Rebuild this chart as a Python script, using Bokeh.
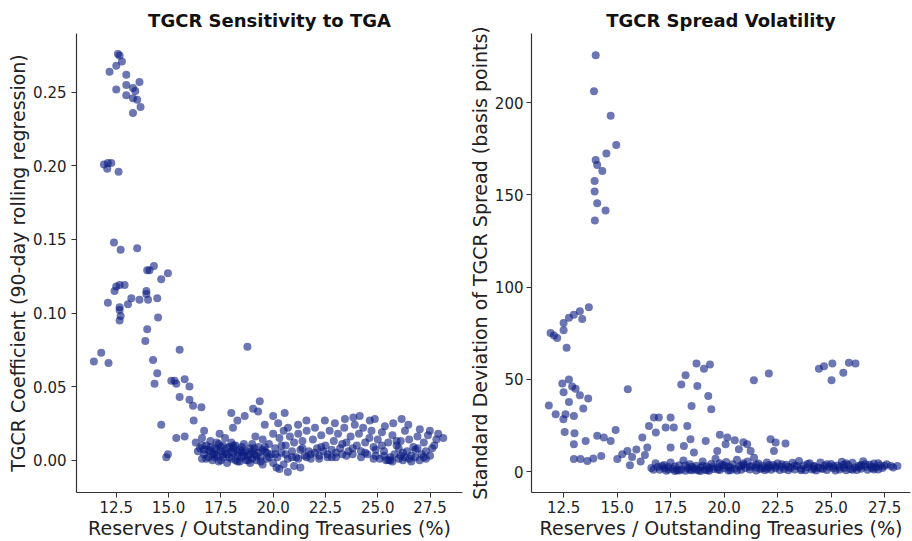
from bokeh.plotting import figure
from bokeh.layouts import row
from bokeh.models import FixedTicker, NumeralTickFormatter, Range1d
from bokeh.embed import file_html
from bokeh.resources import INLINE

# ---------------- Left panel: TGCR sensitivity to TGA ----------------
tga_scarce_x = [12.58, 12.66, 12.77, 12.50, 12.18, 12.98, 12.50, 12.98, 13.30, 13.61, 13.41, 12.98, 13.30, 13.50, 13.66, 13.30,
                12.10, 12.26, 11.91, 12.07, 12.61,
                12.39, 12.71, 13.50, 14.30, 14.09, 13.98, 14.97, 14.65, 12.50, 12.66, 12.90, 12.42, 13.94, 13.94, 12.10, 13.22,
                13.06, 13.61, 14.02, 14.46, 12.66, 12.66, 12.71, 12.66, 14.50, 13.98, 13.89, 15.53, 11.78, 11.43, 12.13, 14.26,
                14.46, 14.33, 15.13, 15.37, 15.77, 16.00, 15.53, 16.00, 16.17, 16.57, 16.20, 14.65, 18.77, 15.29,
                18.00, 18.29, 18.64, 18.08, 19.04, 19.36, 19.28, 15.37, 15.77, 16.70, 17.44, 14.97, 14.89, 19.15, 20.16]
tga_scarce_y = [0.276, 0.275, 0.271, 0.268, 0.264, 0.262, 0.252, 0.255, 0.253, 0.257, 0.251, 0.248, 0.246, 0.245, 0.240, 0.236,
                0.202, 0.202, 0.201, 0.198, 0.196,
                0.148, 0.143, 0.144, 0.132, 0.129, 0.129, 0.127, 0.123, 0.118, 0.119, 0.119, 0.115, 0.115, 0.113, 0.107, 0.110,
                0.106, 0.109, 0.109, 0.110, 0.104, 0.102, 0.098, 0.095, 0.097, 0.089, 0.081, 0.075, 0.073, 0.067, 0.066, 0.068,
                0.059, 0.052, 0.054, 0.052, 0.055, 0.050, 0.043, 0.041, 0.037, 0.036, 0.027, 0.024, 0.077, 0.054,
                0.032, 0.027, 0.030, 0.022, 0.035, 0.040, 0.033, 0.015, 0.016, 0.020, 0.018, 0.004, 0.002, 0.016, -0.005]

tga_ample_x = [19.60, 20.00, 20.24, 20.55, 20.71, 21.19, 21.59, 22.47, 22.95, 23.43, 23.83, 24.14, 24.62, 24.86, 25.34, 25.74,
               26.14, 26.46, 27.01, 27.49, 27.89, 28.13,
               16.3, 16.5, 16.6, 16.7, 16.8, 16.9, 17.0, 17.0, 17.1, 17.2, 17.3, 17.3, 17.4, 17.5, 17.6, 17.6, 17.7, 17.8, 17.8,
               17.9, 18.0, 18.0, 18.1, 18.2, 18.2, 18.3, 18.4, 18.4, 18.5, 18.6, 18.6, 18.7, 18.8, 18.9, 18.9, 19.0,
               19.1, 19.2, 19.3, 19.4, 19.5, 19.5, 19.6, 19.7, 19.8, 19.9, 20.0, 20.0,
               20.1, 20.2, 20.3, 20.3, 20.4, 20.5, 20.5, 20.6, 20.7, 20.7, 20.8, 20.9, 21.0, 21.0,
               21.1, 21.2, 21.3, 21.3, 21.4, 21.5, 21.6, 21.7, 21.8, 21.9, 22.0, 22.0,
               22.1, 22.2, 22.3, 22.4, 22.5, 22.6, 22.7, 22.8, 22.9, 23.0,
               23.1, 23.2, 23.3, 23.4, 23.5, 23.6, 23.7, 23.8, 23.9, 24.0,
               24.1, 24.2, 24.3, 24.4, 24.5, 24.6, 24.7, 24.8, 24.9, 25.0,
               25.1, 25.2, 25.2, 25.3, 25.4, 25.5, 25.6, 25.7, 25.7, 25.8, 25.9, 26.0,
               26.1, 26.1, 26.2, 26.3, 26.4, 26.5, 26.5, 26.6, 26.7, 26.8, 26.9, 27.0,
               27.1, 27.2, 27.3, 27.4, 27.5, 27.6, 27.8,
               16.6, 16.9, 17.2, 17.5, 17.7, 18.1, 18.3, 18.5, 18.8, 19.0, 19.2, 19.4, 19.7, 21.2, 21.6, 22.2, 22.6, 23.0,
               23.5, 24.2, 24.8, 25.5, 26.0, 26.3, 26.8, 27.2,
               16.4, 16.6, 16.8, 17.0, 17.1, 17.3, 17.4, 17.6, 17.8, 17.9, 18.1, 18.3, 18.5, 18.7, 18.9, 19.1, 19.3, 19.5,
               19.8, 20.1, 20.4, 20.9, 21.4, 21.8, 22.3, 22.8, 23.3, 23.8, 24.4, 24.9, 25.3, 25.6, 25.9, 26.2, 26.6, 26.9,
               27.3, 27.7, 16.7, 17.2, 17.5, 18.0, 18.6, 19.0, 19.6, 20.6]
tga_ample_y = [0.024, 0.030, 0.025, 0.032, 0.022, 0.024, 0.027, 0.027, 0.025, 0.028, 0.029, 0.030, 0.027, 0.028, 0.023, 0.025,
               0.028, 0.024, 0.021, 0.020, 0.018, 0.015,
               0.012, 0.008, 0.015, 0.004, 0.010, 0.002, 0.013, 0.006, 0.000, 0.008, 0.003, 0.012, -0.001, 0.006, 0.010, 0.002,
               0.015, 0.004, -0.002, 0.009, 0.001, 0.012, 0.005, 0.000, 0.010, 0.003, 0.007, -0.001, 0.002, 0.011, 0.005, 0.000,
               0.003, 0.008, -0.002, 0.001,
               0.004, 0.000, 0.009, 0.002, 0.014, -0.003, 0.006, 0.001, 0.011, 0.004, 0.018, -0.002,
               0.008, 0.002, 0.015, -0.006, 0.005, 0.020, -0.003, 0.010, 0.001, -0.008, 0.016, 0.006, -0.004, 0.012,
               0.002, 0.018, 0.007, -0.005, 0.013, 0.003, 0.020, 0.006, 0.001, 0.014, 0.005, 0.022,
               0.008, 0.003, 0.017, 0.006, 0.010, 0.004, 0.020, 0.007, 0.013, 0.005,
               0.018, 0.008, 0.004, 0.022, 0.012, 0.006, 0.016, 0.004, 0.024, 0.010,
               0.018, 0.006, 0.022, 0.012, 0.004, 0.015, 0.020, 0.009, 0.003, 0.014,
               0.001, 0.010, 0.019, 0.003, 0.000, 0.012, 0.002, 0.017, -0.001, 0.004, 0.010, 0.001,
               0.013, 0.003, 0.000, 0.020, 0.006, 0.001, 0.014, -0.001, 0.009, 0.002, 0.016, 0.000,
               0.004, 0.012, 0.001, 0.017, 0.003, 0.008, 0.014,
               0.001, 0.007, 0.002, 0.000, 0.005, 0.008, -0.001, 0.006, 0.000, 0.006, 0.003, -0.001, 0.005, 0.001, 0.002,
               0.001, 0.002, 0.002, 0.003, 0.002, 0.001, 0.000, 0.008, 0.002, 0.007, 0.002,
               0.006, 0.010, 0.001, 0.009, 0.004, 0.007, 0.011, 0.004, 0.008, 0.002, 0.010, 0.005, 0.009, 0.006, 0.004, 0.008,
               0.005, 0.007, 0.002, 0.004, 0.010, 0.002, 0.008, 0.004, 0.009, 0.002, 0.011, 0.008, 0.005, 0.007, 0.006, 0.000,
               0.013, 0.005, 0.003, 0.008, 0.006, 0.010, 0.007, 0.004, 0.009, 0.006, 0.003, 0.011, 0.009, 0.004]

tga_y_ticks = [0.0, 0.05, 0.10, 0.15, 0.20, 0.25]

# ---------------- Right panel: TGCR spread volatility ----------------
vol_scarce_x = [14.00, 13.92, 14.70, 14.96, 14.50, 14.00, 14.07, 14.31, 13.95, 13.95, 14.07, 14.46, 13.96,
                13.68, 13.26, 12.98, 12.75, 13.37, 12.50, 12.50, 11.89, 12.05, 12.20, 12.64,
                12.75, 12.44, 12.90, 13.06, 12.50, 13.26, 13.65, 15.50, 12.75, 11.81, 13.42, 12.13, 12.59, 12.98, 12.49,
                12.55, 13.01, 12.98, 13.53, 14.07, 14.38, 14.70, 14.93, 12.98, 13.29, 13.61, 13.89, 14.26, 15.01, 15.24,
                15.48, 16.49, 16.72, 15.7, 15.9, 16.1, 16.3, 15.6]
vol_scarce_y = [225.7, 206.2, 192.9, 177.0, 172.5, 168.9, 166.2, 163.0, 157.6, 151.8, 145.5, 141.5, 136.1,
                89.1, 86.9, 85.1, 83.4, 82.8, 80.6, 76.6, 75.2, 73.8, 72.5, 67.1,
                50.0, 47.8, 46.1, 45.0, 43.1, 41.4, 39.6, 44.6, 37.7, 35.9, 34.2, 31.1, 31.1, 30.2, 28.4,
                21.5, 20.8, 14.9, 16.6, 19.4, 18.5, 16.6, 22.6, 6.8, 6.8, 5.8, 7.1, 8.5, 6.8, 9.5,
                11.2, 24.8, 29.3, 8.0, 12.0, 5.5, 9.0, 3.5]

vol_ample_x = [18.71, 19.06, 19.34, 18.20, 18.00, 18.75, 19.26, 18.48, 19.40, 21.39, 22.09,
               24.43, 24.67, 25.06, 25.57, 25.02, 25.83, 26.14,
               16.95, 17.50, 17.27, 17.65, 16.81, 18.28, 16.18, 18.43, 19.14, 20.15, 20.07, 21.08, 22.17, 16.41, 17.50,
               18.59, 19.68, 20.69, 21.24, 18.12, 22.41, 22.87, 22.33, 20.5, 20.9, 19.8,
               16.6, 16.8, 17.0, 17.1, 17.3, 17.4, 17.5, 17.6, 17.8, 17.9, 18.0, 18.1, 18.2, 18.3, 18.4, 18.5, 18.6, 18.7,
               18.8, 18.9, 19.0, 19.1, 19.2, 19.3, 19.4, 19.5, 19.6, 19.7, 19.8, 19.9, 20.0, 20.1, 20.2, 20.3, 20.4, 20.5,
               20.6, 20.7, 20.8, 20.9, 21.0, 21.1, 21.2, 21.3, 21.4, 21.5, 21.6, 21.7, 21.8, 21.9, 22.0, 22.1, 22.2, 22.3,
               22.4, 22.5, 22.6, 22.7, 22.8, 22.9, 23.0, 23.1, 23.2, 23.3, 23.4, 23.5, 23.6, 23.7, 23.8, 23.9, 24.0, 24.1,
               24.2, 24.3, 24.4, 24.5, 24.6, 24.7, 24.8, 24.9, 25.0, 25.1, 25.2, 25.3, 25.4, 25.5, 25.6, 25.7, 25.8, 25.9,
               26.0, 26.1, 26.2, 26.3, 26.4, 26.5, 26.6, 26.7, 26.8, 26.9, 27.0, 27.1, 27.2, 27.3, 27.4, 27.6, 27.8, 28.1,
               17.2, 17.7, 18.4, 18.9, 19.3, 19.8, 20.2, 20.8, 21.5, 22.0, 24.2, 25.6, 26.4, 27.0,
               16.7, 16.9, 17.2, 17.4, 17.7, 17.9, 18.2, 18.5, 18.7, 19.0, 19.2, 19.5, 19.7, 20.0, 20.3, 20.6, 20.9, 21.2,
               21.5, 21.8, 22.1, 22.4, 22.7, 23.0, 23.3, 23.6, 23.9, 24.2, 24.5, 24.8, 25.1, 25.4, 25.7, 26.0, 26.3, 26.6,
               26.9, 27.2, 27.5, 27.9]
vol_ample_y = [58.6, 55.8, 58.1, 52.2, 47.3, 46.4, 41.0, 35.6, 33.8, 49.6, 53.2,
               55.8, 57.2, 58.6, 53.6, 49.6, 59.0, 58.6,
               29.3, 29.3, 23.9, 23.9, 21.2, 24.8, 18.5, 17.6, 16.6, 18.5, 14.9, 14.9, 17.6, 13.1, 13.1,
               10.4, 11.2, 12.2, 11.2, 13.9, 15.8, 15.2, 11.2, 17.0, 16.0, 20.0,
               2.0, 4.5, 1.0, 3.0, 0.5, 2.5, 5.0, 1.5, 0.8, 3.5, 1.2, 6.0, 0.5, 2.0, 4.0, 0.8, 1.8, 3.2,
               0.6, 2.2, 5.5, 1.0, 2.8, 0.5, 4.2, 1.5, 7.0, 2.4, 0.9, 3.6, 1.8, 5.2, 2.6, 0.8, 4.0, 1.6,
               6.5, 2.8, 1.0, 3.8, 2.0, 5.5, 1.2, 3.0, 7.5, 2.2, 4.4, 1.4, 3.2, 0.8, 5.0, 2.4, 1.0, 3.6,
               1.8, 4.6, 0.9, 2.6, 1.4, 3.8, 0.7, 2.0, 4.8, 1.2, 3.0, 5.8, 1.6, 3.4, 0.8, 2.4, 4.6, 1.2,
               3.0, 0.6, 2.2, 5.0, 1.4, 3.2, 0.9, 2.6, 4.2, 1.8, 0.6, 3.4, 1.2, 5.4, 2.0, 0.8, 3.6, 1.4,
               4.8, 2.2, 0.9, 3.2, 1.6, 5.6, 2.6, 1.0, 3.8, 1.8, 4.4, 2.4, 1.2, 3.4, 2.0, 4.0, 3.0, 3.1,
               1.8, 0.4, 1.0, 0.4, 2.0, 4.5, 0.6, 3.0, 0.6, 1.6, 1.6, 3.8, 3.6, 1.2,
               1.0, 2.5, 3.6, 1.2, 2.8, 0.6, 3.4, 2.6, 1.0, 3.2, 0.8, 2.8, 1.2, 3.4, 2.2, 0.6, 4.6, 2.6,
               3.8, 2.0, 3.6, 2.8, 4.0, 2.6, 3.4, 0.8, 4.2, 2.8, 1.8, 4.0, 3.0, 2.4, 4.6, 1.0, 2.4, 4.0,
               2.8, 4.6, 3.0, 2.2]

vol_y_ticks = [0, 50, 100, 150, 200]
x_ticks = [12.5, 15.0, 17.5, 20.0, 22.5, 25.0, 27.5]

FONT = "DejaVu Sans"
DOT = "#0a1a80"


def style(p, title, ylabel, yfmt, ystandoff):
    p.title.text = title
    p.title.text_font = FONT
    p.title.text_font_size = "18px"
    p.title.text_font_style = "bold"
    p.title.align = "center"
    p.title.text_color = "#111111"
    p.title.standoff = 5
    p.outline_line_color = None
    p.xgrid.visible = False
    p.ygrid.visible = False
    for ax in (p.xaxis[0], p.yaxis[0]):
        ax.axis_line_color = "#333333"
        ax.axis_line_width = 1.2
        ax.major_tick_line_color = "#333333"
        ax.major_tick_out = 5
        ax.major_tick_in = 0
        ax.minor_tick_line_color = None
        ax.major_label_text_font = FONT
        ax.major_label_text_font_size = "15px"
        ax.major_label_text_color = "#222222"
        ax.major_label_standoff = 3
        ax.axis_label_text_font = FONT
        ax.axis_label_text_font_size = "19px"
        ax.axis_label_text_font_style = "normal"
        ax.axis_label_text_color = "#222222"
        ax.axis_label_standoff = 1
    p.xaxis[0].axis_label = "Reserves / Outstanding Treasuries (%)"
    p.xaxis[0].ticker = FixedTicker(ticks=x_ticks)
    p.xaxis[0].formatter = NumeralTickFormatter(format="0.0")
    p.yaxis[0].axis_label = ylabel
    p.yaxis[0].formatter = NumeralTickFormatter(format=yfmt)
    p.yaxis[0].major_label_standoff = ystandoff


p1 = figure(width=465, height=541, output_backend="svg", toolbar_location=None,
            x_range=Range1d(10.6, 29.05), y_range=Range1d(-0.022, 0.290),
            min_border_left=76, min_border_right=3, min_border_top=33, min_border_bottom=48)
style(p1, "TGCR Sensitivity to TGA", "TGCR Coefficient (90-day rolling regression)", "0.00", 5)
p1.yaxis[0].ticker = FixedTicker(ticks=tga_y_ticks)
p1.scatter(tga_scarce_x, tga_scarce_y, size=8, fill_color=DOT, fill_alpha=0.6, line_color=None)
p1.scatter(tga_ample_x, tga_ample_y, size=8, fill_color=DOT, fill_alpha=0.6, line_color=None)

p2 = figure(width=447, height=541, output_backend="svg", toolbar_location=None,
            x_range=Range1d(11.0, 28.71), y_range=Range1d(-11.3, 237.5),
            min_border_left=66, min_border_right=2, min_border_top=33, min_border_bottom=48)
style(p2, "TGCR Spread Volatility", "Standard Deviation of TGCR Spread (basis points)", "0", 3)
p2.yaxis[0].ticker = FixedTicker(ticks=vol_y_ticks)
p2.scatter(vol_scarce_x, vol_scarce_y, size=8, fill_color=DOT, fill_alpha=0.6, line_color=None)
p2.scatter(vol_ample_x, vol_ample_y, size=8, fill_color=DOT, fill_alpha=0.6, line_color=None)

layout = row(p1, p2)
open("out.html", "w").write(file_html(layout, INLINE))
